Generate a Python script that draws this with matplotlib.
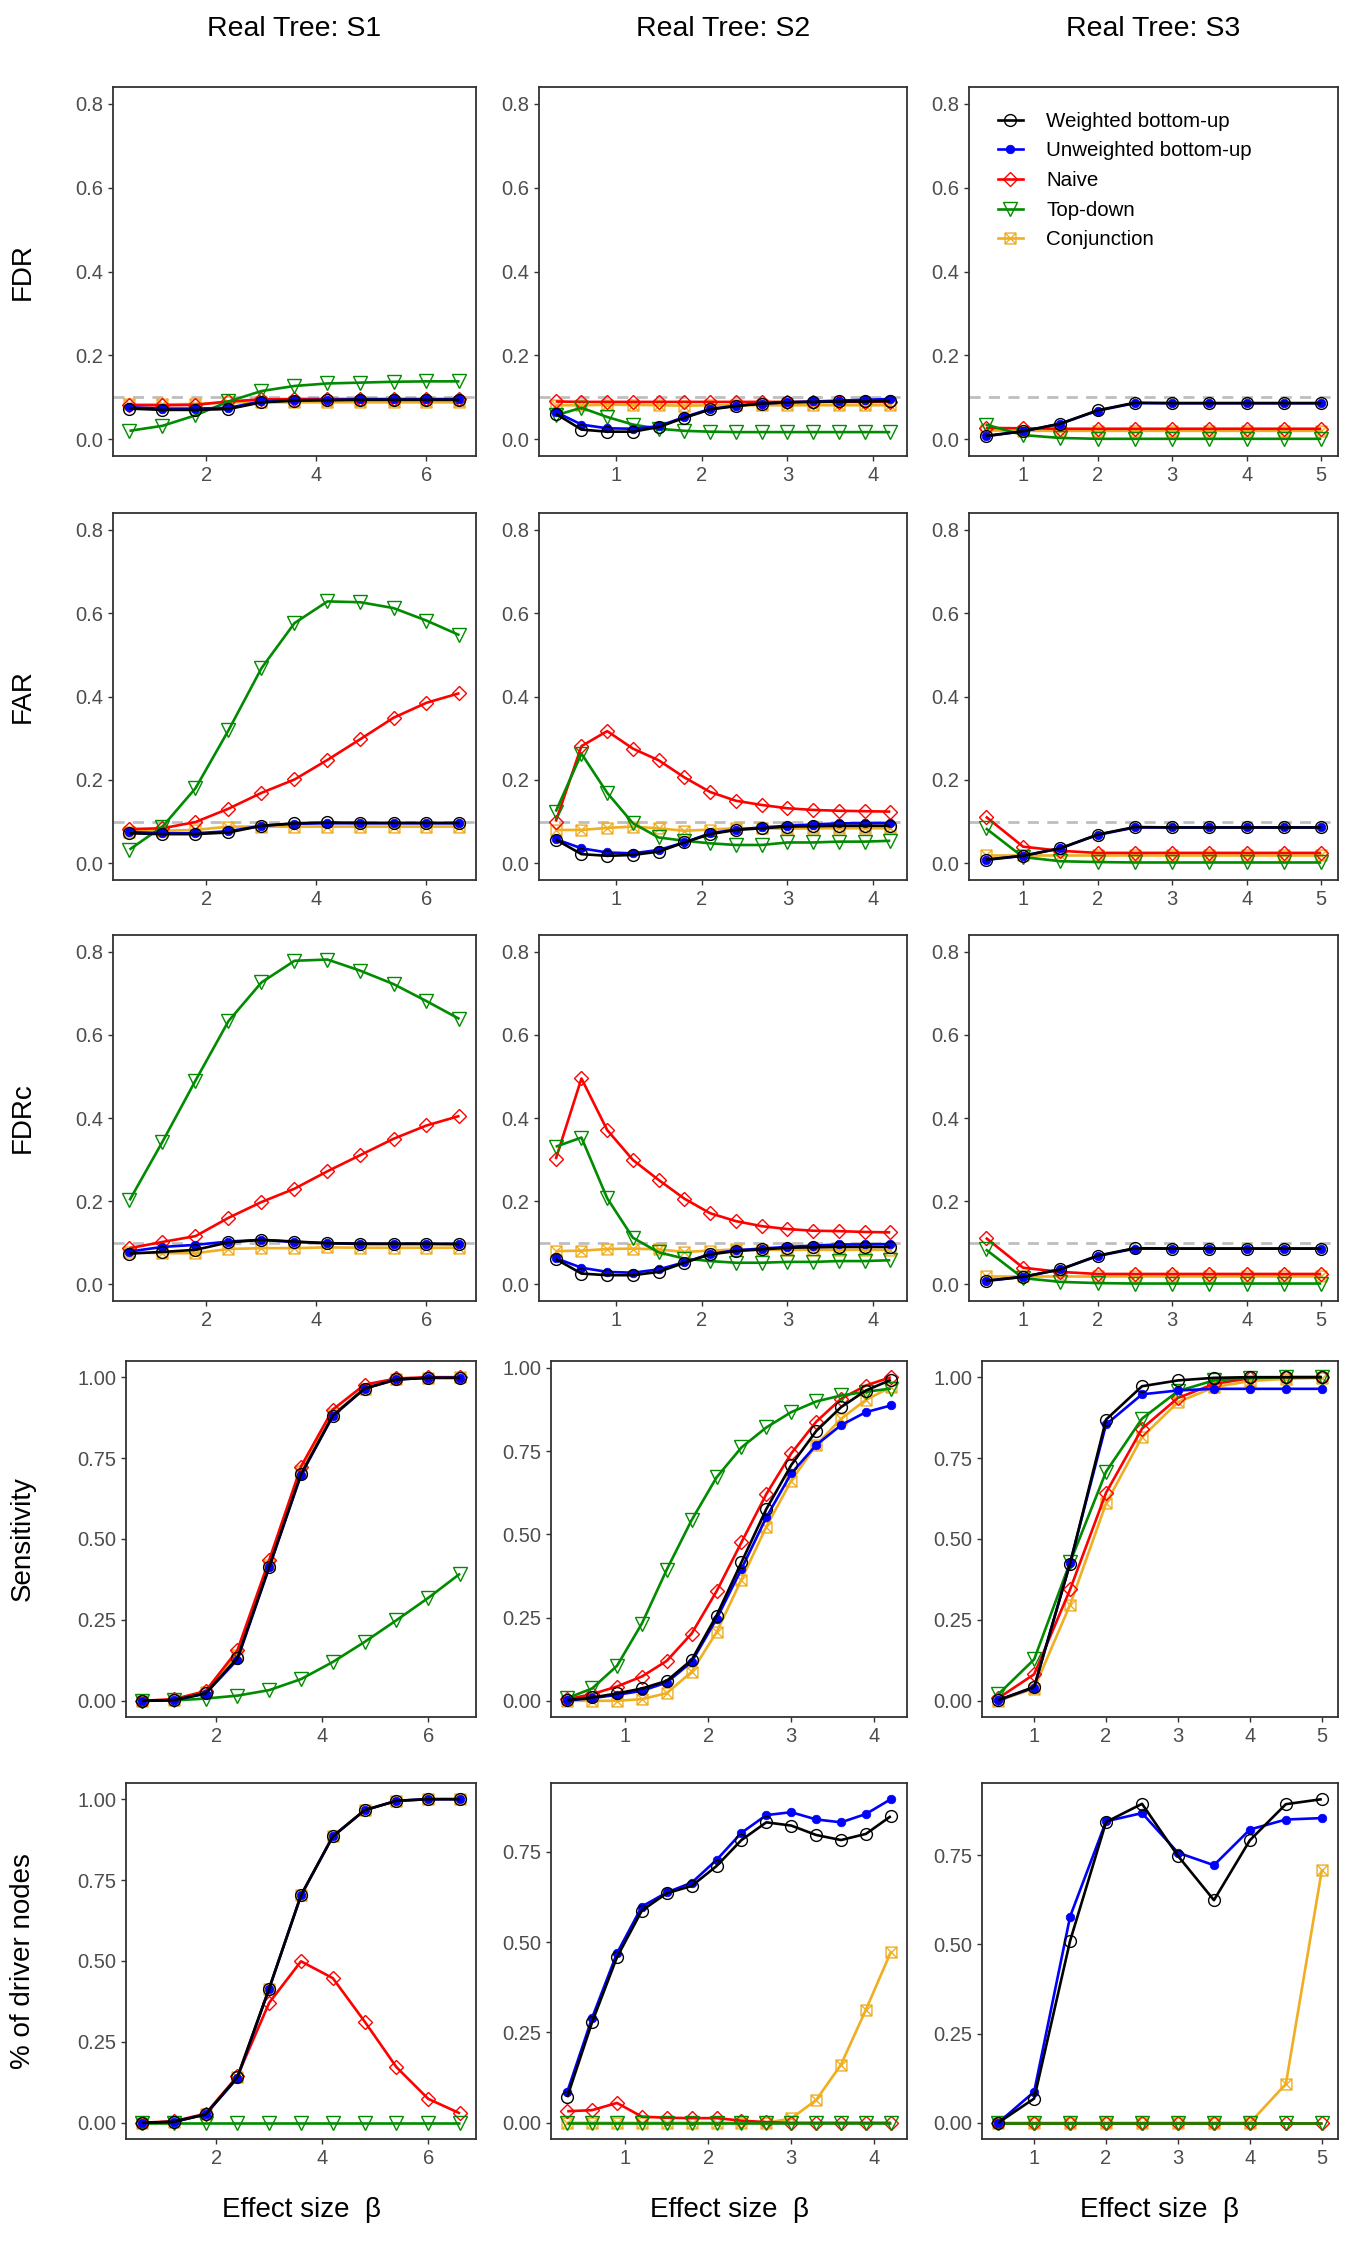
import matplotlib
matplotlib.use("Agg")
import matplotlib.pyplot as plt
from matplotlib.path import Path
from matplotlib.lines import Line2D

plt.rcParams['font.family'] = ['Liberation Sans', 'DejaVu Sans']

# ---------------- data ----------------
TREES = ["S1", "S2", "S3"]
ROW_LABELS = ["FDR", "FAR", "FDRc", "Sensitivity", "% of driver nodes"]
METHOD_LABELS = ["Weighted bottom-up", "Unweighted bottom-up", "Naive", "Top-down", "Conjunction"]

x_S1 = [0.6, 1.2, 1.8, 2.4, 3.0, 3.6, 4.2, 4.8, 5.4, 6.0, 6.6]
x_S2 = [0.3, 0.6, 0.9, 1.2, 1.5, 1.8, 2.1, 2.4, 2.7, 3.0, 3.3, 3.6, 3.9, 4.2]
x_S3 = [0.5, 1.0, 1.5, 2.0, 2.5, 3.0, 3.5, 4.0, 4.5, 5.0]

xticks_S1 = [2, 4, 6]
xticks_S2 = [1, 2, 3, 4]
xticks_S3 = [1, 2, 3, 4, 5]
yticks_rate = [0.0, 0.2, 0.4, 0.6, 0.8]
yticks_prop = [0.0, 0.25, 0.50, 0.75, 1.00]

# FDR
fdr_S1_wb = [0.073, 0.070, 0.070, 0.072, 0.088, 0.092, 0.093, 0.094, 0.094, 0.094, 0.094]
fdr_S1_ub = [0.076, 0.073, 0.073, 0.075, 0.090, 0.093, 0.094, 0.095, 0.095, 0.095, 0.095]
fdr_S1_nv = [0.081, 0.081, 0.082, 0.090, 0.095, 0.096, 0.096, 0.096, 0.096, 0.096, 0.096]
fdr_S1_td = [0.020, 0.032, 0.057, 0.090, 0.115, 0.127, 0.133, 0.135, 0.137, 0.138, 0.138]
fdr_S1_cj = [0.083, 0.083, 0.084, 0.088, 0.088, 0.088, 0.088, 0.088, 0.088, 0.088, 0.088]

fdr_S2_wb = [0.061, 0.023, 0.018, 0.018, 0.029, 0.051, 0.071, 0.079, 0.085, 0.088, 0.089, 0.090, 0.090, 0.091]
fdr_S2_ub = [0.065, 0.035, 0.026, 0.025, 0.031, 0.053, 0.072, 0.080, 0.085, 0.088, 0.090, 0.092, 0.094, 0.096]
fdr_S2_nv = [0.090, 0.089, 0.089, 0.089, 0.089, 0.089, 0.089, 0.089, 0.089, 0.089, 0.089, 0.089, 0.089, 0.089]
fdr_S2_td = [0.057, 0.075, 0.053, 0.035, 0.025, 0.020, 0.018, 0.017, 0.017, 0.017, 0.017, 0.017, 0.017, 0.017]
fdr_S2_cj = [0.081, 0.081, 0.082, 0.082, 0.081, 0.080, 0.081, 0.081, 0.081, 0.081, 0.081, 0.081, 0.081, 0.081]

fdr_S3_wb = [0.008, 0.019, 0.037, 0.069, 0.087, 0.086, 0.086, 0.086, 0.086, 0.086]
fdr_S3_ub = [0.007, 0.019, 0.037, 0.068, 0.086, 0.086, 0.086, 0.086, 0.086, 0.086]
fdr_S3_nv = [0.027, 0.026, 0.025, 0.025, 0.025, 0.025, 0.025, 0.025, 0.025, 0.025]
fdr_S3_td = [0.035, 0.010, 0.003, 0.001, 0.001, 0.001, 0.001, 0.001, 0.001, 0.001]
fdr_S3_cj = [0.021, 0.020, 0.020, 0.020, 0.020, 0.020, 0.020, 0.020, 0.020, 0.020]

# FAR
far_S1_wb = [0.072, 0.070, 0.070, 0.074, 0.090, 0.096, 0.098, 0.097, 0.097, 0.097, 0.097]
far_S1_ub = [0.075, 0.072, 0.072, 0.077, 0.090, 0.095, 0.096, 0.096, 0.096, 0.096, 0.096]
far_S1_nv = [0.082, 0.084, 0.099, 0.131, 0.169, 0.201, 0.248, 0.298, 0.349, 0.385, 0.408]
far_S1_td = [0.033, 0.088, 0.180, 0.319, 0.468, 0.576, 0.628, 0.626, 0.612, 0.582, 0.547]
far_S1_cj = [0.076, 0.078, 0.080, 0.088, 0.088, 0.088, 0.088, 0.088, 0.088, 0.088, 0.088]

far_S2_wb = [0.057, 0.022, 0.018, 0.020, 0.028, 0.050, 0.070, 0.080, 0.084, 0.088, 0.089, 0.090, 0.090, 0.090]
far_S2_ub = [0.058, 0.036, 0.026, 0.024, 0.032, 0.050, 0.072, 0.081, 0.086, 0.090, 0.093, 0.096, 0.096, 0.097]
far_S2_nv = [0.100, 0.281, 0.317, 0.275, 0.247, 0.206, 0.171, 0.150, 0.140, 0.132, 0.128, 0.126, 0.125, 0.124]
far_S2_td = [0.124, 0.263, 0.169, 0.096, 0.062, 0.054, 0.048, 0.044, 0.044, 0.050, 0.050, 0.052, 0.052, 0.054]
far_S2_cj = [0.080, 0.080, 0.085, 0.088, 0.084, 0.078, 0.081, 0.084, 0.084, 0.083, 0.084, 0.084, 0.084, 0.084]

far_S3_wb = [0.009, 0.018, 0.036, 0.069, 0.087, 0.086, 0.086, 0.086, 0.086, 0.086]
far_S3_ub = [0.008, 0.018, 0.036, 0.068, 0.086, 0.086, 0.086, 0.086, 0.086, 0.086]
far_S3_nv = [0.112, 0.040, 0.030, 0.025, 0.025, 0.025, 0.025, 0.025, 0.025, 0.025]
far_S3_td = [0.084, 0.015, 0.005, 0.003, 0.002, 0.002, 0.002, 0.002, 0.002, 0.002]
far_S3_cj = [0.021, 0.021, 0.021, 0.021, 0.021, 0.021, 0.021, 0.021, 0.021, 0.021]

# FDRc
fdrc_S1_wb = [0.074, 0.078, 0.083, 0.101, 0.107, 0.103, 0.099, 0.098, 0.098, 0.098, 0.097]
fdrc_S1_ub = [0.079, 0.090, 0.095, 0.103, 0.107, 0.102, 0.099, 0.097, 0.097, 0.097, 0.097]
fdrc_S1_nv = [0.087, 0.102, 0.116, 0.160, 0.198, 0.230, 0.272, 0.311, 0.350, 0.382, 0.405]
fdrc_S1_td = [0.202, 0.343, 0.490, 0.633, 0.726, 0.778, 0.781, 0.754, 0.722, 0.681, 0.638]
fdrc_S1_cj = [0.077, 0.075, 0.075, 0.085, 0.087, 0.087, 0.089, 0.088, 0.088, 0.088, 0.088]

fdrc_S2_wb = [0.061, 0.026, 0.022, 0.022, 0.030, 0.052, 0.072, 0.080, 0.084, 0.088, 0.089, 0.090, 0.090, 0.090]
fdrc_S2_ub = [0.063, 0.040, 0.030, 0.028, 0.036, 0.053, 0.073, 0.082, 0.086, 0.090, 0.093, 0.096, 0.096, 0.097]
fdrc_S2_nv = [0.301, 0.495, 0.371, 0.299, 0.251, 0.206, 0.171, 0.152, 0.140, 0.133, 0.129, 0.128, 0.126, 0.125]
fdrc_S2_td = [0.331, 0.353, 0.207, 0.112, 0.077, 0.062, 0.056, 0.052, 0.052, 0.054, 0.054, 0.056, 0.056, 0.058]
fdrc_S2_cj = [0.080, 0.081, 0.085, 0.086, 0.084, 0.078, 0.081, 0.084, 0.083, 0.083, 0.083, 0.083, 0.083, 0.083]

fdrc_S3_wb = [0.009, 0.018, 0.036, 0.069, 0.087, 0.086, 0.086, 0.086, 0.086, 0.086]
fdrc_S3_ub = [0.008, 0.018, 0.036, 0.068, 0.086, 0.086, 0.086, 0.086, 0.086, 0.086]
fdrc_S3_nv = [0.112, 0.040, 0.030, 0.025, 0.025, 0.025, 0.025, 0.025, 0.025, 0.025]
fdrc_S3_td = [0.084, 0.015, 0.006, 0.003, 0.002, 0.002, 0.002, 0.002, 0.002, 0.002]
fdrc_S3_cj = [0.021, 0.021, 0.021, 0.021, 0.021, 0.021, 0.021, 0.021, 0.021, 0.021]

# Sensitivity
sens_S1_wb = [0.000, 0.002, 0.023, 0.132, 0.414, 0.700, 0.881, 0.965, 0.993, 0.998, 0.998]
sens_S1_ub = [0.000, 0.002, 0.022, 0.127, 0.412, 0.698, 0.880, 0.965, 0.993, 0.998, 0.998]
sens_S1_nv = [0.000, 0.005, 0.030, 0.156, 0.435, 0.724, 0.900, 0.977, 0.996, 1.000, 1.000]
sens_S1_td = [0.000, 0.001, 0.007, 0.016, 0.033, 0.067, 0.120, 0.182, 0.249, 0.318, 0.393]
sens_S1_cj = [0.000, 0.003, 0.027, 0.143, 0.420, 0.710, 0.885, 0.965, 0.993, 0.999, 1.000]

sens_S2_wb = [0.002, 0.010, 0.022, 0.037, 0.060, 0.123, 0.256, 0.416, 0.576, 0.708, 0.810, 0.882, 0.932, 0.964]
sens_S2_ub = [0.001, 0.008, 0.018, 0.030, 0.055, 0.117, 0.246, 0.396, 0.551, 0.683, 0.768, 0.828, 0.867, 0.887]
sens_S2_nv = [0.005, 0.020, 0.043, 0.073, 0.120, 0.202, 0.329, 0.476, 0.621, 0.743, 0.838, 0.907, 0.947, 0.972]
sens_S2_td = [0.008, 0.037, 0.105, 0.232, 0.394, 0.543, 0.671, 0.761, 0.821, 0.867, 0.899, 0.917, 0.928, 0.938]
sens_S2_cj = [0.000, 0.000, 0.000, 0.005, 0.023, 0.087, 0.206, 0.364, 0.523, 0.661, 0.768, 0.847, 0.904, 0.942]

sens_S3_wb = [0.002, 0.043, 0.424, 0.869, 0.972, 0.990, 0.998, 1.000, 1.000, 1.000]
sens_S3_ub = [0.002, 0.041, 0.426, 0.854, 0.947, 0.959, 0.964, 0.964, 0.964, 0.964]
sens_S3_nv = [0.008, 0.082, 0.344, 0.643, 0.841, 0.936, 0.979, 0.997, 1.000, 1.000]
sens_S3_td = [0.020, 0.128, 0.428, 0.708, 0.872, 0.957, 0.990, 0.998, 1.000, 1.000]
sens_S3_cj = [0.000, 0.038, 0.297, 0.610, 0.815, 0.923, 0.969, 0.988, 0.995, 0.998]

# % of driver nodes
drv_S1_wb = [0.000, 0.003, 0.026, 0.141, 0.415, 0.703, 0.885, 0.966, 0.995, 1.000, 1.000]
drv_S1_ub = [0.000, 0.003, 0.026, 0.138, 0.415, 0.703, 0.885, 0.966, 0.995, 1.000, 1.000]
drv_S1_nv = [0.000, 0.005, 0.028, 0.144, 0.371, 0.499, 0.447, 0.313, 0.172, 0.074, 0.029]
drv_S1_td = [0.000, 0.000, 0.000, 0.000, 0.000, 0.000, 0.000, 0.000, 0.000, 0.000, 0.000]
drv_S1_cj = [0.000, 0.003, 0.026, 0.141, 0.415, 0.703, 0.885, 0.966, 0.995, 1.000, 1.000]

drv_S2_wb = [0.071, 0.278, 0.458, 0.587, 0.635, 0.655, 0.710, 0.782, 0.831, 0.822, 0.796, 0.782, 0.799, 0.848]
drv_S2_ub = [0.085, 0.290, 0.469, 0.598, 0.637, 0.664, 0.727, 0.802, 0.851, 0.859, 0.839, 0.831, 0.854, 0.895]
drv_S2_nv = [0.032, 0.035, 0.055, 0.017, 0.014, 0.013, 0.013, 0.006, 0.002, 0.000, 0.000, 0.000, 0.000, 0.000]
drv_S2_td = [0.000, 0.000, 0.000, 0.000, 0.000, 0.000, 0.000, 0.000, 0.000, 0.000, 0.000, 0.000, 0.000, 0.000]
drv_S2_cj = [0.000, 0.000, 0.000, 0.000, 0.000, 0.000, 0.000, 0.000, 0.000, 0.012, 0.063, 0.161, 0.313, 0.472]

drv_S3_wb = [0.000, 0.068, 0.510, 0.843, 0.894, 0.748, 0.624, 0.792, 0.893, 0.907]
drv_S3_ub = [0.000, 0.087, 0.578, 0.845, 0.868, 0.757, 0.722, 0.822, 0.850, 0.854]
drv_S3_nv = [0.000, 0.000, 0.000, 0.000, 0.000, 0.000, 0.000, 0.000, 0.000, 0.000]
drv_S3_td = [0.000, 0.000, 0.000, 0.000, 0.000, 0.000, 0.000, 0.000, 0.000, 0.000]
drv_S3_cj = [0.000, 0.000, 0.000, 0.000, 0.000, 0.000, 0.000, 0.000, 0.109, 0.708]

TARGET_LEVEL = 0.1

# ---------------- assembling ----------------
XS = {"S1": x_S1, "S2": x_S2, "S3": x_S3}
XT = {"S1": xticks_S1, "S2": xticks_S2, "S3": xticks_S3}
g = globals()
ROW_KEYS = ["fdr", "far", "fdrc", "sens", "drv"]
METHOD_KEYS = ["wb", "ub", "nv", "td", "cj"]

# square-with-cross marker (ggplot shape 7)
sqx = Path([(-1, -1), (1, -1), (1, 1), (-1, 1), (-1, -1),
            (-1, -1), (1, 1), (-1, 1), (1, -1)],
           [Path.MOVETO, Path.LINETO, Path.LINETO, Path.LINETO, Path.CLOSEPOLY,
            Path.MOVETO, Path.LINETO, Path.MOVETO, Path.LINETO])

STYLE = {
    "wb": dict(color="black", marker="o", ms=8.5, mfc="none", mec="black", mew=1.0),
    "ub": dict(color="#0000FF", marker="o", ms=6.2, mfc="#0000FF", mec="#0000FF", mew=0.5),
    "nv": dict(color="#FF0000", marker="D", ms=7.3, mfc="none", mec="#FF0000", mew=1.0),
    "td": dict(color="#008B00", marker="v", ms=9.5, mfc="none", mec="#008B00", mew=1.0),
    "cj": dict(color="#F0AE22", marker=sqx, ms=7.8, mfc="none", mec="#F0AE22", mew=1.0),
}
LW = 1.9
DRAW_ORDER = ["cj", "nv", "td", "ub", "wb"]

W, H = 1350, 2250
fig = plt.figure(figsize=(W / 100, H / 100), dpi=100)

COLS_A = [(113, 476), (539, 907), (969, 1338)]
COLS_B = [(126, 476), (551, 907), (982, 1338)]
ROWS = [(87, 456), (513, 880), (935, 1301), (1361, 1717), (1783, 2139)]

TICK_COL = "#333333"
LAB_COL = "#4D4D4D"

for r, rk in enumerate(ROW_KEYS):
    for c, tree in enumerate(TREES):
        x0, x1 = (COLS_A if r < 3 else COLS_B)[c]
        y0, y1 = ROWS[r]
        ax = fig.add_axes([x0 / W, 1 - y1 / H, (x1 - x0) / W, (y1 - y0) / H])
        xs = XS[tree]
        allv = []
        for mk in DRAW_ORDER:
            vals = g[f"{rk}_{tree}_{mk}"]
            allv += vals
            st = STYLE[mk]
            ax.plot(xs, vals, color=st["color"], lw=LW, marker=st["marker"], ms=st["ms"],
                    mfc=st["mfc"], mec=st["mec"], mew=st["mew"], zorder=3,
                    solid_joinstyle="round", solid_capstyle="butt")
        xpad = 0.05 * (max(xs) - min(xs))
        ax.set_xlim(min(xs) - xpad, max(xs) + xpad)
        if r < 3:
            ax.axhline(TARGET_LEVEL, color="#BEBEBE", lw=2.0, ls=(0, (4, 3)), zorder=2)
            ax.set_ylim(-0.04, 0.84)
            ax.set_yticks(yticks_rate)
            ax.set_yticklabels([f"{v:.1f}" for v in yticks_rate])
        else:
            lo, hi = min(allv), max(allv)
            pad = 0.05 * (hi - lo)
            ax.set_ylim(lo - pad, hi + pad)
            yt = [v for v in yticks_prop if v <= hi + pad]
            ax.set_yticks(yt)
            ax.set_yticklabels([f"{v:.2f}" for v in yt])
        ax.set_xticks(XT[tree])
        ax.set_xticklabels([str(v) for v in XT[tree]])
        ax.tick_params(direction="out", length=3.6, width=1.0, color=TICK_COL,
                       labelcolor=LAB_COL, labelsize=14.5, pad=3.5)
        for sp in ax.spines.values():
            sp.set_color(TICK_COL)
            sp.set_linewidth(1.3)
        if r == 0 and c == 2:
            handles = [Line2D([], [], color=STYLE[m]["color"], lw=LW, marker=STYLE[m]["marker"],
                              ms=STYLE[m]["ms"], mfc=STYLE[m]["mfc"], mec=STYLE[m]["mec"],
                              mew=STYLE[m]["mew"]) for m in METHOD_KEYS]
            ax.legend(handles, METHOD_LABELS, loc="upper left", bbox_to_anchor=(0.079, 0.933),
                      frameon=False, fontsize=14.8, handlelength=1.2, handletextpad=1.15,
                      labelspacing=0.52, borderpad=0, borderaxespad=0)
        if r == 0:
            fig.text((x0 + x1) / 2 / W, 1 - 29 / H, f"Real Tree: {tree}",
                     ha="center", va="center", fontsize=20.5)
        if r == 4:
            fig.text((x0 + x1) / 2 / W, 1 - 2210 / H, "Effect size  \u03b2",
                     ha="center", va="center", fontsize=20)
    yc = (ROWS[r][0] + ROWS[r][1]) / 2
    fig.text(23 / W, 1 - yc / H, ROW_LABELS[r], rotation=90, ha="center", va="center",
             fontsize=20)

fig.savefig("out.png", dpi=100, facecolor="white")
